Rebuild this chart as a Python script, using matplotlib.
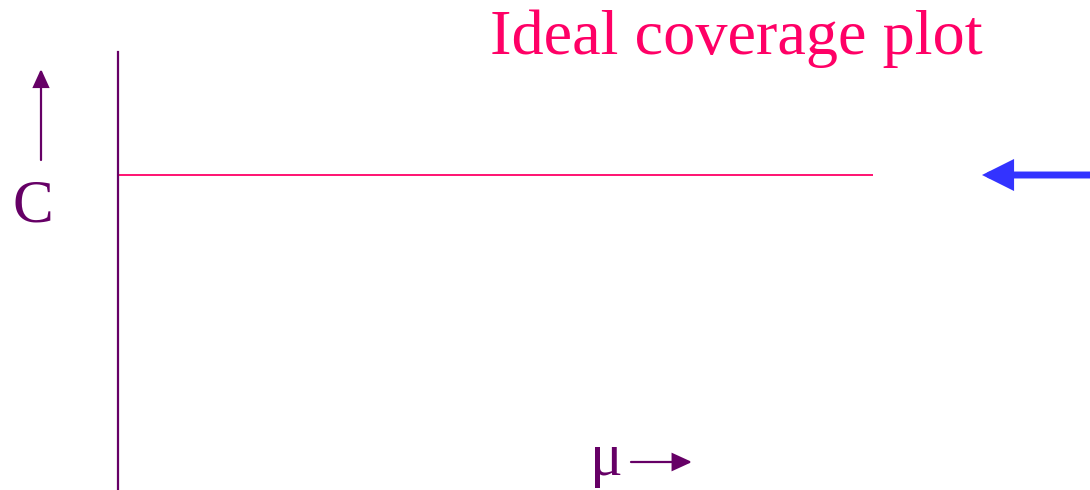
import matplotlib
matplotlib.use("Agg")
import matplotlib.pyplot as plt
from matplotlib.patches import FancyArrowPatch

# Data: ideal coverage is flat across mu
mu = [0.0, 1.0]
coverage = [0.68, 0.68]
title = "Ideal coverage plot"
xlabel = "\u03bc"
ylabel = "C"

W, H = 1090, 490
PINK = "#FF0066"
PURPLE = "#660066"
BLUE = "#3333FF"

plt.rcParams["font.family"] = ["Liberation Serif", "DejaVu Serif"]
fig = plt.figure(figsize=(W / 100, H / 100), dpi=100)

def fx(px):
    return px / W

def fy(py):
    return 1 - py / H

ax = fig.add_axes([fx(118), 0, fx(873) - fx(118), fy(52)])
ax.plot(mu, coverage, color=PINK, lw=1.3, solid_capstyle="butt")
ax.set_xlim(0, 1)
ax.set_ylim(0, coverage[0] / ((490 - 175) / 438))
for s in ["top", "right", "bottom"]:
    ax.spines[s].set_visible(False)
ax.spines["left"].set_color(PURPLE)
ax.spines["left"].set_linewidth(1.6)
ax.set_xticks([])
ax.set_yticks([])
ax.patch.set_alpha(0)

fig.text(fx(736), fy(39), title, color=PINK, fontsize=46.3, ha="center", va="center")
fig.text(fx(33), fy(207), ylabel, color=PURPLE, fontsize=44, ha="center", va="center")
fig.text(fx(606), fy(460), xlabel, color=PURPLE, fontsize=44, ha="center", va="center")

# up arrow next to C
fig.add_artist(FancyArrowPatch(
    (fx(41), fy(160)), (fx(41), fy(69)), transform=fig.transFigure,
    arrowstyle="-|>,head_length=11,head_width=5", color=PURPLE, lw=1.6,
    shrinkA=0, shrinkB=0, mutation_scale=1, joinstyle="miter"))
# right arrow next to mu
fig.add_artist(FancyArrowPatch(
    (fx(631), fy(462)), (fx(692), fy(462)), transform=fig.transFigure,
    arrowstyle="-|>,head_length=12,head_width=5.5", color=PURPLE, lw=1.6,
    shrinkA=0, shrinkB=0, mutation_scale=1, joinstyle="miter"))
# blue arrow pointing at the line
fig.add_artist(FancyArrowPatch(
    (fx(1092), fy(175)), (fx(982), fy(175)), transform=fig.transFigure,
    arrowstyle="-|>,head_length=15,head_width=7.5", color=BLUE, lw=5,
    shrinkA=0, shrinkB=0, mutation_scale=1, joinstyle="miter"))

fig.savefig("out.png", dpi=100, facecolor="white")
